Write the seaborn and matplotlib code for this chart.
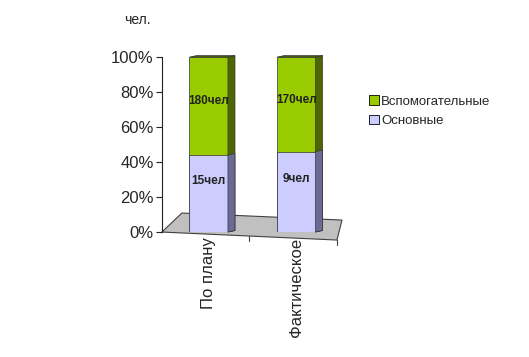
import matplotlib
matplotlib.use("Agg")
import matplotlib.pyplot as plt
from matplotlib.patches import Polygon
from matplotlib.lines import Line2D
import seaborn as sns
import pandas as pd

categories = ["По плану", "Фактическое"]
osnovnye_pct = [44, 46]            # lower segment share, %
vspomog_pct = [56, 54]             # upper segment share, %
osnovnye_labels = ["15чел", "9чел"]
vspomog_labels = ["180чел", "170чел"]
yticks = [0, 20, 40, 60, 80, 100]
series_names = ["Вспомогательные", "Основные"]
unit_title = "чел."

green = "#99cc00"
green_side = "#4d6600"
lav = "#ccccff"
lav_side = "#6a6a94"

sns.set_theme(style="white")
plt.rcParams["font.family"] = ["Liberation Sans", "DejaVu Sans"]

fig = plt.figure(figsize=(5.29, 3.57), dpi=100)
ax = fig.add_axes([0.306, 0.350, 0.331, 0.490])

df = pd.DataFrame({
    "cat": categories,
    "low": osnovnye_pct,
    "total": [a + b for a, b in zip(osnovnye_pct, vspomog_pct)],
})

x_lo, x_hi = -0.535, 1.465
ax.set_xlim(x_lo, x_hi)
ax.set_ylim(0, 100)

# px -> data conversion
px_x = (x_hi - x_lo) / 175.0
px_y = 100.0 / 175.0

# floor
floor = Polygon([(x_lo, 0), (x_hi, -8 * px_y), (x_hi + 5 * px_x, 12 * px_y),
                 (x_lo + 20 * px_x, 19 * px_y)], closed=True,
                facecolor="#c0c0c0", edgecolor="#404040", linewidth=0.8,
                clip_on=False, zorder=1)
ax.add_patch(floor)
for frac in [0.5, 1.0]:
    xb = x_lo + frac * (x_hi - x_lo)
    yb = -8 * px_y * frac
    ax.add_line(Line2D([xb, xb], [yb, yb - 5 * px_y], color="#404040",
                       linewidth=0.8, clip_on=False, zorder=1))

bw = 0.44
sns.barplot(data=df, x="cat", y="total", color=green, saturation=1,
            width=bw, ax=ax, edgecolor="#333333", linewidth=0.5, zorder=3)
sns.barplot(data=df, x="cat", y="low", color=lav, saturation=1,
            width=bw, ax=ax, edgecolor="#333333", linewidth=0.5, zorder=4)
ax.set_xlim(x_lo, x_hi)

dx = 7 * px_x
dy = 1.5 * px_y
n = len(categories)
top_patches = ax.patches[-2 * n:-n]
low_patches = ax.patches[-n:]
for p, side in [(pp, green_side) for pp in top_patches] + [(pp, lav_side) for pp in low_patches]:
    x0, y0 = p.get_x(), p.get_y()
    w, h = p.get_width(), p.get_height()
    xr = x0 + w
    ax.add_patch(Polygon([(xr, y0), (xr + dx, y0 + dy), (xr + dx, y0 + h + dy), (xr, y0 + h)],
                         closed=True, facecolor=side, edgecolor="#333333",
                         linewidth=0.5, zorder=p.get_zorder(), clip_on=False))
for p in top_patches:
    x0, w, h = p.get_x(), p.get_width(), p.get_height()
    ax.add_patch(Polygon([(x0, h), (x0 + dx, h + dy), (x0 + w + dx, h + dy), (x0 + w, h)],
                         closed=True, facecolor=green_side, edgecolor="#333333",
                         linewidth=0.5, zorder=5, clip_on=False))

for i in range(n):
    lo = osnovnye_pct[i]
    ax.text(i, lo * 0.66, osnovnye_labels[i], ha="center", va="center",
            fontsize=8.5, fontweight="bold", color="#222222", zorder=6)
    ax.text(i, lo + vspomog_pct[i] * 0.55, vspomog_labels[i], ha="center", va="center",
            fontsize=8.5, fontweight="bold", color="#222222", zorder=6)

for s in ["top", "right", "bottom"]:
    ax.spines[s].set_visible(False)
ax.spines["left"].set_color("#222222")
ax.spines["left"].set_linewidth(0.8)
ax.set_yticks(yticks)
ax.set_yticklabels([f"{t}%" for t in yticks], fontsize=12)
ax.tick_params(axis="y", direction="out", length=4, width=0.8, color="#222222", pad=2, left=True)
ax.set_xticks(range(n))
ax.set_xticklabels(categories, rotation=90, fontsize=12, va="top", ha="center")
ax.tick_params(axis="x", length=0, pad=4)
ax.set_xlabel("")
ax.set_ylabel("")
ax.grid(False)

fig.text(124 / 529, 1 - 20 / 357, unit_title, fontsize=10, ha="left", va="center")

handles = [Polygon([(0, 0)], facecolor=green, edgecolor="black", linewidth=0.6),
           Polygon([(0, 0)], facecolor=lav, edgecolor="black", linewidth=0.6)]
fig.legend(handles, series_names, loc="upper left", bbox_to_anchor=(364 / 529, 1 - 90 / 357),
           frameon=False, fontsize=9.5, handlelength=0.7, handleheight=0.7,
           handletextpad=0.2, labelspacing=0.55, borderaxespad=0)

fig.savefig("out.png", dpi=100)
